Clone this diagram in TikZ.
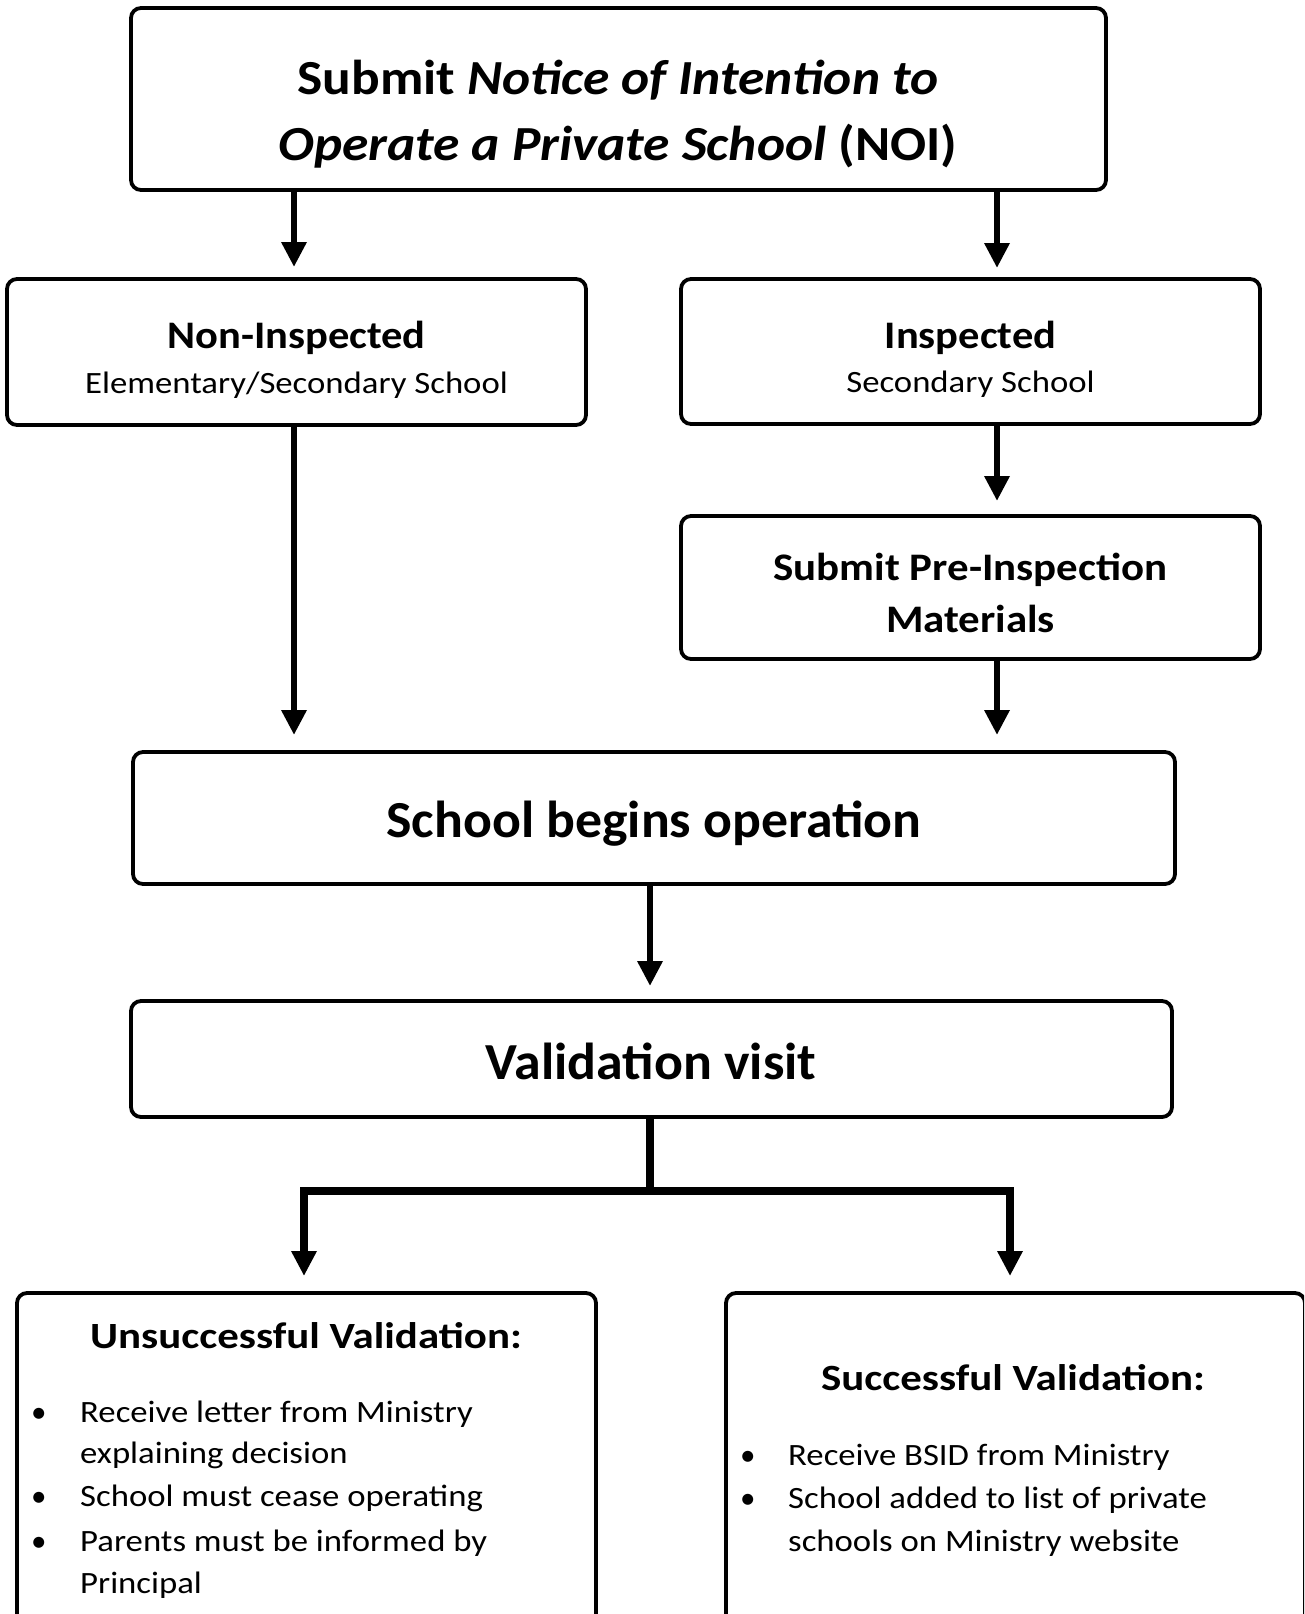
\documentclass[tikz,border=0pt]{standalone}
\usepackage{fontspec}
\setmainfont{Carlito}
\usetikzlibrary{arrows.meta}
\newcommand{\sx}[2]{\scalebox{#1}[1]{#2}}
\begin{document}
\begin{tikzpicture}[x=1pt,y=-1pt,
  box/.style={draw, line width=3.8pt, rounded corners=10pt, inner sep=0pt},
  conn/.style={line width=6.5pt, -{Triangle[length=25pt,width=24pt]}},
  connb/.style={line width=7.5pt, -{Triangle[length=25pt,width=24pt]}},
  txt/.style={inner sep=0pt, align=center},
  blt/.style={inner sep=0pt, anchor=base west, font=\fontsize{31}{37}\selectfont}]
\useasboundingbox (0,0) rectangle (1304,1614);
\clip (0,0) rectangle (1304,1614);
% boxes
\node[box, minimum width=975pt, minimum height=182pt] (noi) at (618.5,99) {};
\node[box, minimum width=579pt, minimum height=146pt] (nonins) at (296.5,352) {};
\node[box, minimum width=579pt, minimum height=145pt] (ins) at (970.5,351.5) {};
\node[box, minimum width=579pt, minimum height=143pt] (pre) at (970.5,587.5) {};
\node[box, minimum width=1042pt, minimum height=132pt] (begins) at (654,818) {};
\node[box, minimum width=1041pt, minimum height=116pt] (visit) at (651.5,1059) {};
\node[box, minimum width=579pt, minimum height=360pt] (unsucc) at (306.5,1473) {};
\node[box, minimum width=579pt, minimum height=360pt] (succ) at (1015.5,1473) {};
% texts
\node[txt, font=\fontsize{49}{66}\selectfont\bfseries] (noit) at (618,114)
  {\sx{1.09}{Submit \textit{Notice of Intention to}}\\\sx{1.09}{\textit{Operate a Private School} (NOI)}};
\node[txt, font=\fontsize{39}{48}\selectfont\bfseries] (nonint) at (296.5,338) {\sx{1.09}{Non-Inspected}};
\node[txt, font=\fontsize{31}{37}\selectfont] (nonins2) at (296.5,385) {\sx{1.12}{Elementary/Secondary School}};
\node[txt, font=\fontsize{39}{48}\selectfont\bfseries] (inst) at (970.5,338) {\sx{1.09}{Inspected}};
\node[txt, font=\fontsize{31}{37}\selectfont] (ins2) at (970.5,384) {\sx{1.12}{Secondary School}};
\node[txt, font=\fontsize{39}{52}\selectfont\bfseries] (pret) at (970.5,593) {\sx{1.10}{Submit Pre-Inspection}\\\sx{1.10}{Materials}};
\node[txt, font=\fontsize{52}{60}\selectfont\bfseries] (begint) at (654,824) {\sx{1.034}{School begins operation}};
\node[txt, font=\fontsize{52}{60}\selectfont\bfseries] (visitt) at (651,1061) {\sx{1.036}{Validation visit}};
\node[txt, font=\fontsize{37}{44}\selectfont\bfseries] (unsucct) at (306,1336) {\sx{1.16}{Unsuccessful Validation:}};
\node[txt, font=\fontsize{37}{44}\selectfont\bfseries] (succt) at (1013,1378) {\sx{1.16}{Successful Validation:}};
% bullets left
\node[blt] (ub1) at (31,1422) {\textbullet};
\node[blt] (u1a) at (80,1422) {\sx{1.12}{Receive letter from Ministry}};
\node[blt] (u1b) at (80,1463) {\sx{1.12}{explaining decision}};
\node[blt] (ub2) at (31,1506) {\textbullet};
\node[blt] (u2) at (80,1506) {\sx{1.12}{School must cease operating}};
\node[blt] (ub3) at (31,1551) {\textbullet};
\node[blt] (u3a) at (80,1551) {\sx{1.12}{Parents must be informed by}};
\node[blt] (u3b) at (80,1593) {\sx{1.12}{Principal}};
% bullets right
\node[blt] (sb1) at (740,1465) {\textbullet};
\node[blt] (s1) at (788,1465) {\sx{1.12}{Receive BSID from Ministry}};
\node[blt] (sb2) at (740,1508) {\textbullet};
\node[blt] (s2a) at (788,1508) {\sx{1.12}{School added to list of private}};
\node[blt] (s2b) at (788,1551) {\sx{1.12}{schools on Ministry website}};
% connectors
\coordinate (aL) at (294,267);
\coordinate (aR) at (997,268);
\coordinate (aL2) at (294,735);
\coordinate (aR2) at (997,501);
\coordinate (aR3) at (997,735);
\coordinate (aC) at (650,986);
\coordinate (br) at (650,1191);
\coordinate (bL) at (304,1276);
\coordinate (bR) at (1010,1276);
\draw[conn] (noi.south -| aL) -- (aL);
\draw[conn] (noi.south -| aR) -- (aR);
\draw[conn] (nonins.south -| aL2) -- (aL2);
\draw[conn] (ins.south -| aR2) -- (aR2);
\draw[conn] (pre.south -| aR3) -- (aR3);
\draw[conn] (begins.south -| aC) -- (aC);
\draw[line width=7.5pt] (visit.south -| br) -- (br);
\draw[line width=7.5pt] ([xshift=-3.75pt]bL |- br) -- ([xshift=3.75pt]bR |- br);
\draw[connb] ([yshift=-3.75pt]bL |- br) -- (bL);
\draw[connb] ([yshift=-3.75pt]bR |- br) -- (bR);
\end{tikzpicture}
\end{document}
